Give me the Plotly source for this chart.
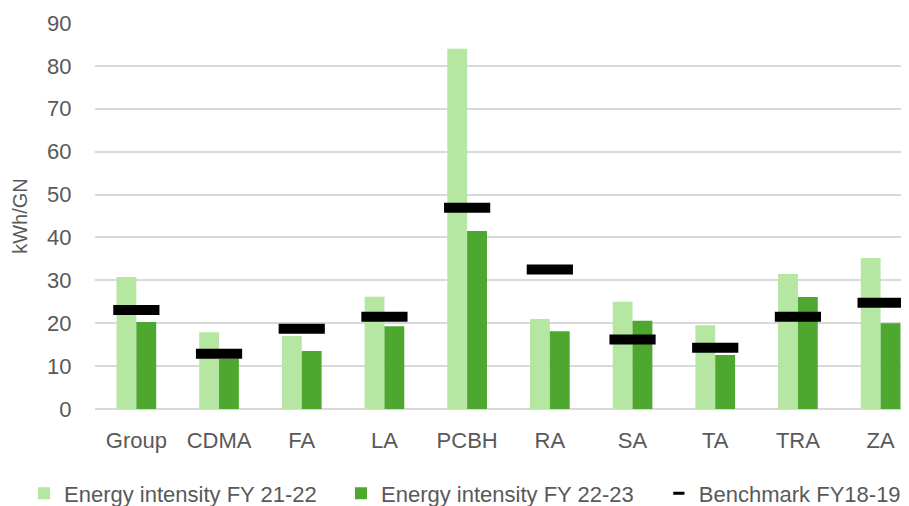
import plotly.graph_objects as go

categories = ["Group", "CDMA", "FA", "LA", "PCBH", "RA", "SA", "TA", "TRA", "ZA"]
fy2122 = [30.8, 17.9, 17.0, 26.2, 84.0, 21.0, 25.0, 19.5, 31.5, 35.2]
fy2223 = [20.3, 11.7, 13.5, 19.3, 41.5, 18.1, 20.6, 12.6, 26.1, 20.0]
benchmark = [23.1, 12.9, 18.7, 21.5, 46.9, 32.5, 16.2, 14.3, 21.5, 24.8]
y_ticks = [0, 10, 20, 30, 40, 50, 60, 70, 80, 90]

grey = "#595959"
legend_font = dict(family="Liberation Sans, Arial, sans-serif", size=22, color=grey)

fig = go.Figure()
fig.add_trace(go.Bar(x=categories, y=fy2122, name="Energy intensity FY 21-22",
                     marker=dict(color="#b5e6a2", line=dict(width=0))))
fig.add_trace(go.Bar(x=categories, y=fy2223, name="Energy intensity FY 22-23",
                     marker=dict(color="#4ea72e", line=dict(width=0))))
fig.add_trace(go.Scatter(x=categories, y=benchmark, name="Benchmark FY18-19", mode="markers",
                         showlegend=False, legendgroup="bm", legend="legend2",
                         marker=dict(symbol="line-ew", size=33, color="black",
                                     line=dict(color="black", width=10))))
# legend entry for the benchmark (small dash, like the reference legend)
fig.add_trace(go.Scatter(x=[None], y=[None], name="Benchmark FY18-19", mode="markers",
                         legendgroup="bm", legend="legend2",
                         marker=dict(symbol="line-ew", size=8, color="black",
                                     line=dict(color="black", width=3))))

fig.update_layout(
    width=909, height=506,
    margin=dict(l=87, r=0, t=15, b=105, autoexpand=False),
    paper_bgcolor="white", plot_bgcolor="white",
    barmode="group", bargap=0.52, bargroupgap=0,
    font=dict(family="Liberation Sans, Arial, sans-serif", size=22, color=grey),
    showlegend=True,
    legend=dict(orientation="h", yref="container", xref="container", y=0.082, yanchor="top",
                x=0.0176, xanchor="left", entrywidth=272, entrywidthmode="pixels",
                font=legend_font, tracegroupgap=0),
    legend2=dict(orientation="h", yref="container", xref="container", y=0.082, yanchor="top",
                 x=0.716, xanchor="left", font=legend_font, tracegroupgap=0),
    xaxis=dict(range=[-0.5, 9.44], showgrid=False, showline=False, zeroline=False, automargin=False,
               ticks="outside", ticklen=12, tickcolor="rgba(0,0,0,0)",
               tickfont=dict(size=22, color=grey)),
    yaxis=dict(range=[0, 90], tickvals=y_ticks, showgrid=True, gridcolor="#d9d9d9", gridwidth=1.5,
               zeroline=True, zerolinecolor="#d9d9d9", zerolinewidth=1.5, automargin=False,
               ticks="outside", ticklen=18, tickcolor="rgba(0,0,0,0)",
               tickfont=dict(size=22, color=grey),
               title=dict(text="kWh/GN", font=dict(size=20, color=grey), standoff=14)),
)

fig.write_html("out.html")
